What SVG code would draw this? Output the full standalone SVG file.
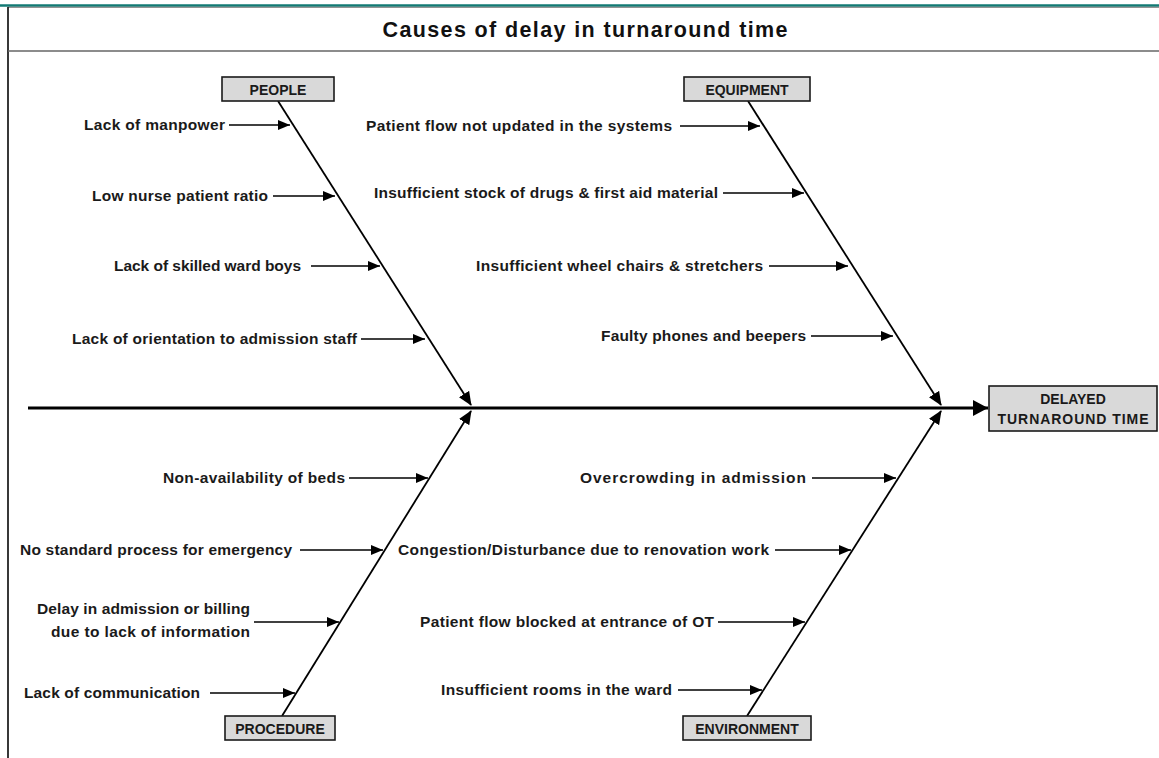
<svg xmlns="http://www.w3.org/2000/svg" width="1159" height="758" viewBox="0 0 1159 758">
<defs>
<style>
.t{font-family:"Liberation Sans",Arial,sans-serif;font-weight:bold;font-size:15.5px;fill:#1a1a1a;text-anchor:end}
.b{font-family:"Liberation Sans",Arial,sans-serif;font-weight:bold;font-size:14px;fill:#1a1a1a;text-anchor:middle}
.box{fill:#d9d9d9;stroke:#1a1a1a;stroke-width:1.6}
.ca{stroke:#000;stroke-width:1.5;fill:none;marker-end:url(#a)}
.bone{stroke:#000;stroke-width:1.8;fill:none;marker-end:url(#bh)}
</style>
<marker id="a" markerUnits="userSpaceOnUse" markerWidth="12" markerHeight="10" refX="12" refY="5" orient="auto"><path d="M0,0 L12,5 L0,10 z" fill="#000"/></marker>
<marker id="bh" markerUnits="userSpaceOnUse" markerWidth="14" markerHeight="12" refX="13" refY="6" orient="auto"><path d="M0,0 L14,6 L0,12 z" fill="#000"/></marker>
<marker id="sp" markerUnits="userSpaceOnUse" markerWidth="15" markerHeight="16" refX="15" refY="8" orient="auto"><path d="M0,0 L15,8 L0,16 z" fill="#000"/></marker>
</defs>
<rect x="0" y="0" width="1159" height="758" fill="#fff"/>
<g id="frame">
<line x1="0" y1="5.5" x2="1159" y2="5.5" stroke="#127a74" stroke-width="2.5"/>
<line x1="8" y1="7.3" x2="1159" y2="7.3" stroke="#555" stroke-width="0.8"/>
<line x1="8" y1="7" x2="8" y2="758" stroke="#222" stroke-width="1.8"/>
<line x1="8" y1="51" x2="1159" y2="51" stroke="#666" stroke-width="1.6"/>
<text x="585" y="37" font-family="'Liberation Sans',Arial,sans-serif" font-weight="bold" font-size="21.5" fill="#111" text-anchor="middle" textLength="405">Causes of delay in turnaround time</text>
</g>
<g id="connectors">
<line x1="28" y1="408" x2="988" y2="408" stroke="#000" stroke-width="3" marker-end="url(#sp)"/>
<line class="bone" x1="278" y1="101" x2="471" y2="405"/>
<line class="bone" x1="748" y1="101" x2="941" y2="405"/>
<line class="bone" x1="282" y1="716" x2="471" y2="411"/>
<line class="bone" x1="747" y1="716" x2="941" y2="411"/>
<line class="ca" x1="229" y1="125" x2="290" y2="125"/>
<line class="ca" x1="273" y1="196" x2="335" y2="196"/>
<line class="ca" x1="311" y1="266" x2="380" y2="266"/>
<line class="ca" x1="361" y1="339" x2="425" y2="339"/>
<line class="ca" x1="680" y1="126" x2="760" y2="126"/>
<line class="ca" x1="723" y1="193" x2="804" y2="193"/>
<line class="ca" x1="769" y1="266" x2="848" y2="266"/>
<line class="ca" x1="811" y1="336" x2="893" y2="336"/>
<line class="ca" x1="349" y1="478" x2="428" y2="478"/>
<line class="ca" x1="300" y1="550" x2="383" y2="550"/>
<line class="ca" x1="254" y1="622" x2="339" y2="622"/>
<line class="ca" x1="210" y1="693" x2="295" y2="693"/>
<line class="ca" x1="812" y1="478" x2="896" y2="478"/>
<line class="ca" x1="775" y1="550" x2="851" y2="550"/>
<line class="ca" x1="718" y1="622" x2="805" y2="622"/>
<line class="ca" x1="678" y1="690" x2="762" y2="690"/>
</g>
<g id="people">
<rect class="box" x="222" y="77" width="112" height="24"/>
<text class="b" x="278" y="94.5">PEOPLE</text>
</g>
<g id="equipment">
<rect class="box" x="684" y="77" width="126" height="24"/>
<text class="b" x="747" y="94.5">EQUIPMENT</text>
</g>
<g id="procedure">
<rect class="box" x="225" y="716" width="110" height="24"/>
<text class="b" x="280" y="733.5">PROCEDURE</text>
</g>
<g id="environment">
<rect class="box" x="683" y="716" width="128" height="24"/>
<text class="b" x="747" y="733.5">ENVIRONMENT</text>
</g>
<g id="head">
<rect class="box" x="989" y="386" width="168" height="45"/>
<text class="b" x="1073" y="404">DELAYED</text>
<text class="b" x="1073" y="424" textLength="151">TURNAROUND TIME</text>
</g>
<g id="people-causes">
<text class="t" x="225" y="130" textLength="141">Lack of manpower</text>
<text class="t" x="268" y="201" textLength="176">Low nurse patient ratio</text>
<text class="t" x="301" y="271" textLength="187">Lack of skilled ward boys</text>
<text class="t" x="357" y="344" textLength="285">Lack of orientation to admission staff</text>
</g>
<g id="equipment-causes">
<text class="t" x="672" y="131" textLength="306">Patient flow not updated in the systems</text>
<text class="t" x="718" y="198" textLength="344">Insufficient stock of drugs &amp; first aid material</text>
<text class="t" x="763" y="271" textLength="287">Insufficient wheel chairs &amp; stretchers</text>
<text class="t" x="806" y="341" textLength="205">Faulty phones and beepers</text>
</g>
<g id="procedure-causes">
<text class="t" x="345" y="483" textLength="182">Non-availability of beds</text>
<text class="t" x="292" y="555" textLength="272">No standard process for emergency</text>
<text class="t" x="250" y="614" textLength="213">Delay in admission or billing</text>
<text class="t" x="250" y="637" textLength="199">due to lack of information</text>
<text class="t" x="200" y="698" textLength="176">Lack of communication</text>
</g>
<g id="environment-causes">
<text class="t" x="806" y="483" textLength="226">Overcrowding in admission</text>
<text class="t" x="769" y="555" textLength="371">Congestion/Disturbance due to renovation work</text>
<text class="t" x="714" y="627" textLength="294">Patient flow blocked at entrance of OT</text>
<text class="t" x="672" y="695" textLength="231">Insufficient rooms in the ward</text>
</g>
</svg>
